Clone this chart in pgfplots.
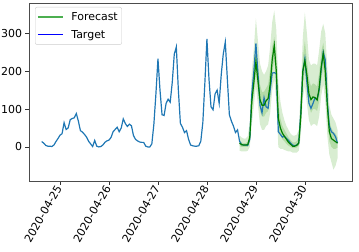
\documentclass[border=0pt]{standalone}
\usepackage{pgfplots}
\pgfplotsset{compat=1.18}
\usepackage{pgfplotstable}
\usepackage{fontspec}
\setmainfont{DejaVu Sans}
\usepgfplotslibrary{fillbetween}
\definecolor{tblue}{HTML}{1F77B4}
\definecolor{fgreen}{HTML}{008000}
\definecolor{lgreen}{HTML}{4CAF50}

\pgfplotstableread{
h t
-9 14
-8 10
-7 4
-6 2
-5 2
-4 1
-3 5
-2 14
-1 22
0 31
1 35
2 64
3 46
4 50
5 72
6 75
7 77
8 88
9 68
10 43
11 39
12 33
13 26
14 15
15 8
16 1
17 17
18 2
19 0
20 1
21 5
22 12
23 16
24 18
25 25
26 40
27 46
28 52
29 40
30 50
31 74
32 62
33 54
34 60
35 56
36 30
37 20
38 16
39 13
40 12
41 12
42 2
43 0
44 0
45 8
46 60
47 140
48 233
49 150
50 85
51 83
52 115
53 126
54 118
55 170
56 245
57 264
58 150
59 62
60 52
61 38
62 43
63 20
64 5
65 3
66 2
67 2
68 3
69 15
70 65
71 170
72 285
73 180
74 106
75 98
76 140
77 150
78 115
79 190
80 245
81 277
82 180
83 85
84 68
85 55
86 38
87 45
88 15
89 6
90 5
91 5
92 4
93 20
94 140
95 200
96 273
97 195
98 110
99 90
100 130
101 106
102 102
103 150
104 195
105 196
106 194
107 40
108 33
109 26
110 28
111 22
112 17
113 10
114 5
115 3
116 5
117 10
118 90
119 200
120 233
121 170
122 115
123 102
124 115
125 130
126 125
127 150
128 205
129 250
130 230
131 120
132 55
133 40
134 36
135 27
136 10
}\target

\pgfplotstableread{
h g lo90 lo50 hi50 hi90
88 10 -10 2 18 30
89 6 -12 0 12 25
90 5 -12 0 10 22
91 5 -12 0 10 22
92 6 -10 0 14 28
93 25 0 15 40 65
94 120 60 95 150 200
95 170 110 145 205 260
96 225 160 195 275 340
97 175 110 150 215 280
98 125 60 95 165 220
99 110 45 80 145 200
100 110 45 80 146 190
101 122 55 90 155 200
102 128 60 95 165 215
103 165 90 130 205 265
104 230 150 195 265 330
105 268 180 230 290 360
106 200 120 165 240 310
107 75 0 45 115 170
108 50 -5 30 75 120
109 36 -5 20 55 90
110 28 -8 15 45 70
111 20 -10 8 35 55
112 12 -12 3 25 45
113 7 -12 0 18 35
114 2 -15 -3 12 30
115 2 -15 -3 12 30
116 4 -15 -2 15 32
117 10 -10 3 25 45
118 80 30 55 110 150
119 200 130 170 235 290
120 228 160 200 280 355
121 190 115 155 230 300
122 140 70 110 180 230
123 125 55 90 160 215
124 132 60 100 168 220
125 130 60 100 165 220
126 124 55 95 160 215
127 155 80 120 195 255
128 210 135 175 250 305
129 246 165 210 275 325
130 200 120 160 240 300
131 110 30 75 150 210
132 40 -20 15 70 110
133 22 -40 0 50 85
134 18 -60 -5 40 75
135 14 -50 -5 35 65
136 10 -30 -2 25 45
}\fc

\begin{document}
\begin{tikzpicture}
\begin{axis}[
  scale only axis, width=323bp, height=178bp,
  xmin=-15.2, xmax=143.1, ymin=-90, ymax=380,
  xtick={0,24,48,72,96,120},
  xticklabels={2020-04-25,2020-04-26,2020-04-27,2020-04-28,2020-04-29,2020-04-30},
  xticklabel style={rotate=60, anchor=east, font=\fontsize{11}{13}\selectfont, inner sep=2pt},
  yticklabel style={font=\fontsize{11}{13}\selectfont},
  ytick={0,100,200,300},
  tick align=outside, xtick pos=bottom, ytick pos=left,
  major tick length=3.5bp,
  tick style={black!80, line width=0.6pt},
  axis line style={black!70, line width=0.8pt},
  /pgf/number format/assume math mode=true,
  legend style={at={(6bp,-4bp)}, anchor=north west, draw=black!20, rounded corners=2pt,
    at={(rel axis cs:0,1)}, xshift=6bp, yshift=-4bp,
    font=\fontsize{11}{13}\selectfont, inner xsep=2pt, inner ysep=3pt, row sep=4.5pt,
    /tikz/every even column/.append style={column sep=0pt}},
  legend cell align=left,
  legend image code/.code={\draw[#1] (0bp,0bp) -- (25bp,0bp);},
  every legend entry/.append style={xshift=0pt},
]
\addplot[draw=none, name path=lo90, forget plot] table[x=h,y=lo90]{\fc};
\addplot[draw=none, name path=hi90, forget plot] table[x=h,y=hi90]{\fc};
\addplot[draw=none, name path=lo50, forget plot] table[x=h,y=lo50]{\fc};
\addplot[draw=none, name path=hi50, forget plot] table[x=h,y=hi50]{\fc};
\addplot[fill=fgreen!80!lime, fill opacity=0.18, draw=none, forget plot] fill between[of=lo90 and hi90];
\addplot[fill=fgreen!80!lime, fill opacity=0.2, draw=none, forget plot] fill between[of=lo50 and hi50];
\addplot[tblue, line width=1.2pt, forget plot] table[x=h,y=t]{\target};
\addplot[fgreen, line width=1.2pt, forget plot] table[x=h,y=g]{\fc};
\addlegendimage{lgreen, line width=1.2pt}
\addlegendentry{\hspace{6bp}Forecast}
\addlegendimage{blue, line width=1.2pt}
\addlegendentry{\hspace{6bp}Target}
\end{axis}
\pgfresetboundingbox
\path ([xshift=-29bp,yshift=-71bp]current axis.south west) rectangle ([xshift=7bp,yshift=3bp]current axis.north east);
\end{tikzpicture}
\end{document}
